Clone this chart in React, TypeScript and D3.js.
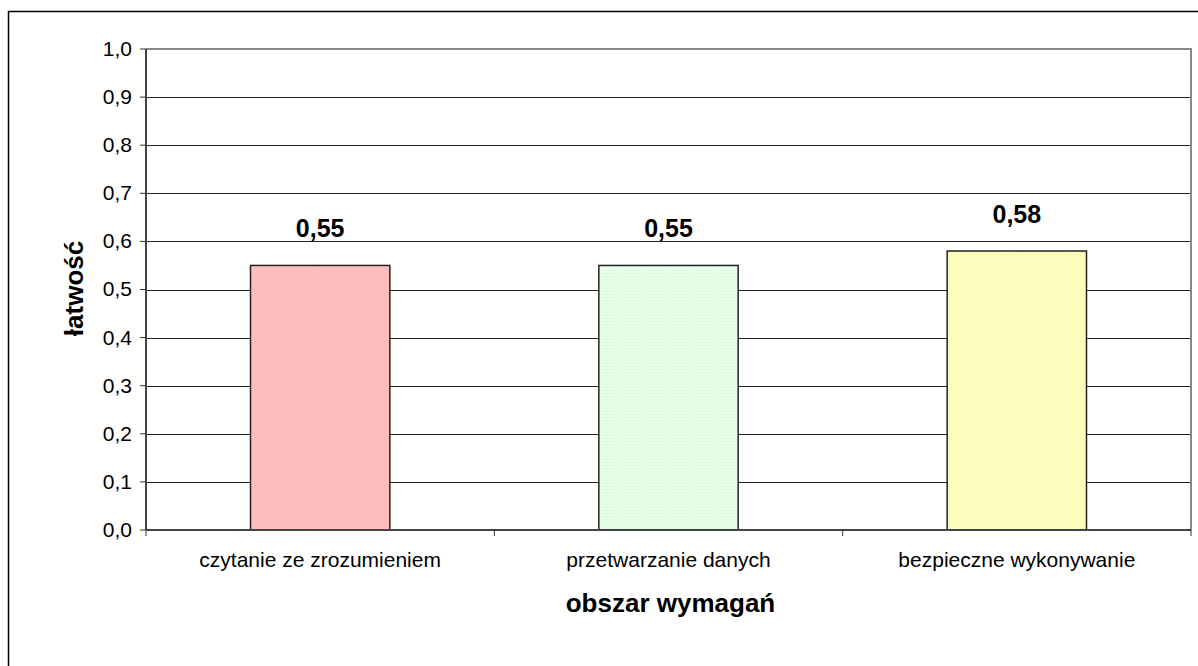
import React from 'react';
import * as d3 from 'd3';

const categories = ['czytanie ze zrozumieniem', 'przetwarzanie danych', 'bezpieczne wykonywanie'];
const values = [0.55, 0.55, 0.58];
const yTicks = [0, 0.1, 0.2, 0.3, 0.4, 0.5, 0.6, 0.7, 0.8, 0.9, 1.0];
const fills = ['#ffc0c0', '#e6ffe6', '#ffffc0'];
const patternStroke = ['#f6b0b0', '#d4f2d4', '#f2f2a8'];

const W = 1198;
const H = 666;
const plot = { left: 146, top: 49, right: 1191, bottom: 530 };
const font = '"Liberation Sans", Arial, sans-serif';

const fmt = (v: number, d: number) => v.toFixed(d).replace('.', ',');

const App = () => {
    const x = d3.scaleBand<string>().domain(categories).range([plot.left, plot.right]).paddingInner(0.6).paddingOuter(0.3);
    const y = d3.scaleLinear().domain([0, 1]).range([plot.bottom, plot.top]);
    const band = d3.scaleBand<string>().domain(categories).range([plot.left, plot.right]);

    return (
        <svg
            width={W}
            height={H}
            style={{ position: 'absolute', left: 0, top: 0, background: '#fff' }}
            fontFamily={font}
        >
            <defs>
                {fills.map((f, i) => (
                    <pattern key={i} id={`p${i}`} width={3} height={3} patternUnits='userSpaceOnUse' patternTransform={i === 1 ? undefined : 'rotate(45)'}>
                        <rect width={3} height={3} fill={f} />
                        {i === 1 ? (
                            <rect width={1} height={1} fill={patternStroke[i]} />
                        ) : (
                            <line x1={0} y1={0} x2={0} y2={3} stroke={patternStroke[i]} strokeWidth={1} />
                        )}
                    </pattern>
                ))}
            </defs>
            {/* chart frame, runs past the page */}
            <rect x={8.5} y={11.5} width={W + 20} height={H + 20} fill='none' stroke='#000' strokeWidth={1.5} />

            {/* grid */}
            {yTicks.slice(1).map(t => (
                <line key={t} x1={plot.left} x2={plot.right} y1={Math.round(y(t)) + 0.5} y2={Math.round(y(t)) + 0.5} stroke='#222' strokeWidth={1} />
            ))}
            {/* plot border top + right */}
            <polyline
                points={`${plot.left},${plot.top} ${plot.right},${plot.top} ${plot.right},${plot.bottom}`}
                fill='none'
                stroke='#888'
                strokeWidth={2}
            />

            {/* bars */}
            {categories.map((c, i) => (
                <g key={c}>
                    <rect
                        x={x(c)}
                        y={y(values[i])}
                        width={x.bandwidth()}
                        height={y(0) - y(values[i])}
                        fill={`url(#p${i})`}
                        stroke='#222'
                        strokeWidth={1.5}
                    />
                    <text
                        x={(x(c) ?? 0) + x.bandwidth() / 2}
                        y={y(values[i]) - 28}
                        textAnchor='middle'
                        fontSize={25}
                        fontWeight='bold'
                    >
                        {fmt(values[i], 2)}
                    </text>
                </g>
            ))}

            {/* y axis */}
            <line x1={plot.left} x2={plot.left} y1={plot.top} y2={plot.bottom} stroke='#444' strokeWidth={2} />
            {yTicks.map(t => (
                <g key={t}>
                    <line x1={plot.left - 6} x2={plot.left} y1={y(t)} y2={y(t)} stroke='#333' strokeWidth={1} />
                    <text x={plot.left - 14} y={y(t)} dy='0.33em' textAnchor='end' fontSize={21}>
                        {fmt(t, 1)}
                    </text>
                </g>
            ))}

            {/* x axis */}
            <line x1={plot.left} x2={plot.right} y1={plot.bottom} y2={plot.bottom} stroke='#444' strokeWidth={2} />
            {[...categories.map(c => band(c) ?? 0), plot.right].map((v, i) => (
                <line key={i} x1={v} x2={v} y1={plot.bottom} y2={plot.bottom + 6} stroke='#333' strokeWidth={1} />
            ))}
            {categories.map(c => (
                <text key={c} x={(band(c) ?? 0) + band.bandwidth() / 2} y={567} textAnchor='middle' fontSize={21}>
                    {c}
                </text>
            ))}

            <text x={(plot.left + plot.right) / 2 + 2} y={612} textAnchor='middle' fontSize={26} fontWeight='bold'>
                obszar wymagań
            </text>
            <text
                transform={`translate(83,${(plot.top + plot.bottom) / 2 - 1}) rotate(-90)`}
                textAnchor='middle'
                fontSize={26}
                fontWeight='bold'
            >
                łatwość
            </text>
        </svg>
    );
};

export default App;
